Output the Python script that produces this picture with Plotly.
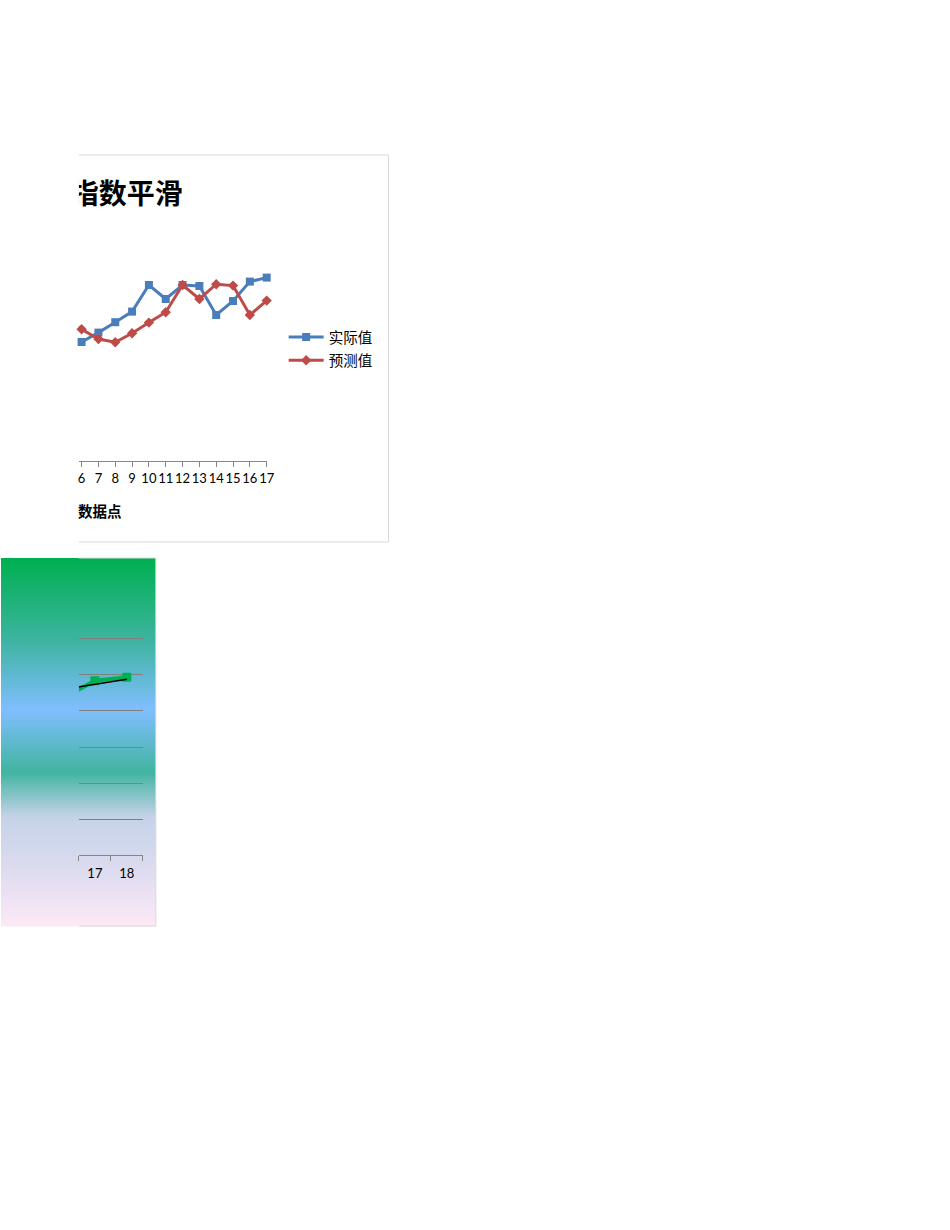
import plotly.graph_objects as go

# --- top chart: 指数平滑 (actual vs forecast) ---
points = [5, 6, 7, 8, 9, 10, 11, 12, 13, 14, 15, 16, 17]
actual = [61.0, 59.5, 64.2, 69.4, 74.7, 88.0, 81.0, 88.0, 87.5, 73.0, 80.0, 89.7, 91.7]
forecast = [71.5, 65.9, 61.0, 59.4, 63.9, 69.2, 74.4, 88.0, 81.0, 88.4, 87.7, 73.0, 80.2]
chart_title = '指数平滑'
x_title = '数据点'

# --- bottom chart (only the last categories are visible) ---
points2 = ['16', '17', '18']
values2 = [87.0, 96.7, 98.6]
trend2 = [91.9, 94.7, 97.5]

# figure size; the body margin is removed below so the figure sits at 0,0
W, H = 940, 1220
SX = 0.9916  # the screenshot comes out slightly narrower than drawn


def fx(p):
    return p / SX / W


def fy(p):
    return 1 - p / H


blue, red, green = '#4a7ebb', '#be4b48', '#00b050'
fig = go.Figure()

# top chart series: the first point is off the visible part, only its line shows
fig.add_trace(go.Scatter(
    x=points[1:], y=actual[1:], mode='lines+markers', name='实际值',
    legendgroup='a', line=dict(color=blue, width=3),
    marker=dict(symbol='square', size=8, color=blue),
    cliponaxis=False, xaxis='x', yaxis='y'))
fig.add_trace(go.Scatter(
    x=points[1:], y=forecast[1:], mode='lines+markers', name='预测值',
    legendgroup='b', line=dict(color=red, width=3),
    marker=dict(symbol='diamond', size=8, color=red),
    cliponaxis=False, xaxis='x', yaxis='y'))
fig.add_trace(go.Scatter(x=points[:2], y=actual[:2], mode='lines', showlegend=False,
                         line=dict(color=blue, width=3), xaxis='x', yaxis='y'))
fig.add_trace(go.Scatter(x=points[:2], y=forecast[:2], mode='lines', showlegend=False,
                         line=dict(color=red, width=3), xaxis='x', yaxis='y'))

# bottom chart series
fig.add_trace(go.Scatter(
    x=points2, y=values2, mode='lines+markers', showlegend=False,
    line=dict(color=green, width=4),
    marker=dict(symbol='square', size=9, color=green),
    xaxis='x2', yaxis='y2'))
fig.add_trace(go.Scatter(
    x=points2, y=trend2, mode='lines', showlegend=False,
    line=dict(color='black', width=1.5),
    xaxis='x2', yaxis='y2'))

# chart title, clipped by the chart frame like in the sheet
fig.add_trace(go.Scatter(
    x=[182], y=[197], mode='text', text=['<b>' + chart_title + '</b>'],
    textposition='middle left', showlegend=False, hoverinfo='skip',
    textfont=dict(size=28, family='Noto Sans CJK SC', color='black'),
    cliponaxis=True, xaxis='x3', yaxis='y3'))

# background gradient of the bottom chart
stops = [(0.0, (0, 176, 80)), (0.22, (60, 180, 160)), (0.41, (128, 190, 255)),
         (0.58, (64, 180, 160)), (0.70, (196, 210, 232)), (0.85, (222, 220, 240)),
         (1.0, (253, 233, 246))]


def grad(t):
    for (t0, c0), (t1, c1) in zip(stops[:-1], stops[1:]):
        if t0 <= t <= t1:
            k = (t - t0) / (t1 - t0)
            return 'rgb(%d,%d,%d)' % tuple(round(a + (b - a) * k) for a, b in zip(c0, c1))
    return 'rgb(%d,%d,%d)' % stops[-1][1]


shapes = []
g_top, g_bot, step = 558, 926, 2
y0 = g_top
while y0 < g_bot:
    y1 = min(y0 + step, g_bot)
    shapes.append(dict(type='rect', xref='paper', yref='paper', layer='below',
                       x0=0, x1=fx(155), y0=fy(y1 + 0.5), y1=fy(y0),
                       line=dict(width=0), fillcolor=grad((y0 - g_top) / (g_bot - g_top))))
    y0 = y1

# chart borders (left side is cut off in the sheet)
border = '#d9d9d9'
for (xa, ya, xb, yb) in [(78, 155, 388, 155), (388, 155, 388, 542), (78, 542, 388, 542),
                         (78, 558, 155, 558), (155, 558, 155, 926), (78, 926, 155, 926)]:
    shapes.append(dict(type='line', xref='paper', yref='paper',
                       x0=fx(xa), y0=fy(ya), x1=fx(xb), y1=fy(yb),
                       line=dict(color=border, width=1)))

axis_grey = '#868686'
grid_px = 36.1
fig.update_layout(
    width=W, height=H,
    margin=dict(l=0, r=0, t=0, b=0),
    paper_bgcolor='white', plot_bgcolor='rgba(0,0,0,0)',
    font=dict(family='Lato, Noto Sans CJK SC', color='black', size=13),
    xaxis=dict(domain=[fx(78), fx(266)], range=[5.84, 17], tick0=0, dtick=1,
               tickangle=0, ticks='outside', ticklen=5, tickcolor=axis_grey,
               showline=True, linecolor=axis_grey, showgrid=False, zeroline=False,
               tickfont=dict(size=13), anchor='y'),
    yaxis=dict(domain=[fy(461), fy(231)], range=[0, 115], visible=False, anchor='x'),
    xaxis2=dict(type='category', domain=[fx(78), fx(142)], range=[0.5, 2.5],
                tickson='boundaries', tickangle=0, ticks='outside', ticklen=5,
                tickcolor=axis_grey, showline=True, linecolor=axis_grey,
                ticklabelstandoff=6,
                showgrid=False, zeroline=False, tickfont=dict(size=13), anchor='y2'),
    yaxis2=dict(domain=[fy(855.3), fy(855.3 - grid_px * 6.1)], range=[0, 122], dtick=20,
                showgrid=True, gridcolor='#808080', gridwidth=1, showticklabels=False,
                zeroline=False, showline=False, anchor='x2'),
    # overlay frame of the top chart, used to clip the title
    xaxis3=dict(domain=[fx(78), fx(388)], range=[78, 388], visible=False, anchor='y3'),
    yaxis3=dict(domain=[fy(542), fy(155)], range=[542, 155], visible=False, anchor='x3'),
    legend=dict(x=fx(283), y=fy(321), xanchor='left', yanchor='top',
                traceorder='grouped', tracegroupgap=1.5, itemwidth=35,
                bgcolor='rgba(0,0,0,0)', font=dict(size=14.5)),
    shapes=shapes,
    annotations=[
        dict(text='<b>' + x_title + '</b>', xref='paper', yref='paper', x=fx(75), y=fy(510),
             xanchor='left', yanchor='middle', showarrow=False,
             font=dict(size=14.5, family='Noto Sans CJK SC')),
    ],
)

fig.write_html("out.html", config={'displayModeBar': False},
               post_script="document.body.style.margin='0';")
